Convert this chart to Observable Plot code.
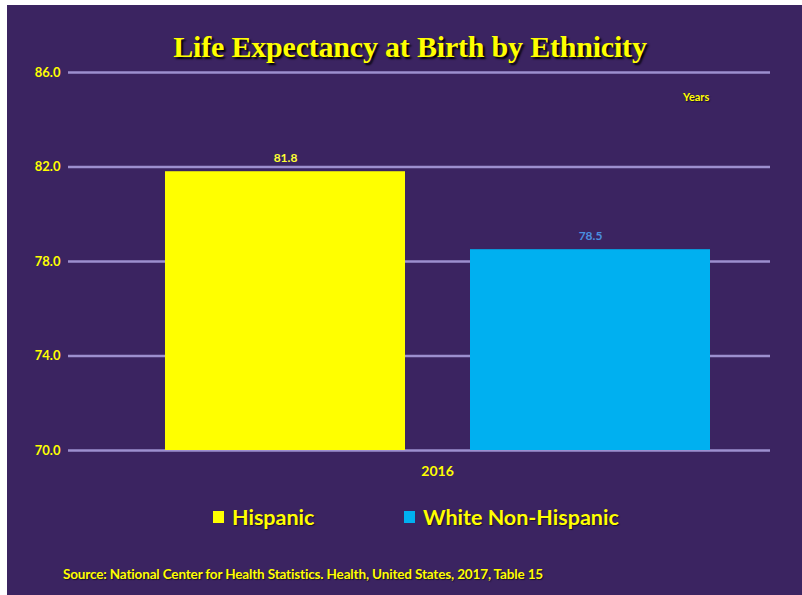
<!DOCTYPE html>
<html>
<head>
<meta charset="utf-8">
<script src="https://cdn.jsdelivr.net/npm/d3@7"></script>
<script src="https://cdn.jsdelivr.net/npm/@observablehq/plot@0.6"></script>
<style>
  html, body { margin: 0; padding: 0; background: #ffffff; width: 802px; height: 595px; overflow: hidden; }
  #bg { position: absolute; left: 7px; top: 5px; width: 795px; height: 590px; background: #3b2461; }
  #title { position: absolute; left: 0; top: 30px; width: 820px; text-align: center;
    font-family: "Liberation Serif", serif; font-weight: bold; font-size: 30px; color: #ffff00;
    text-shadow: 2px 2px 2px #000000; letter-spacing: -0.2px; }
  #unit { position: absolute; left: 683px; top: 90px; font-family: Lato, sans-serif; font-weight: bold;
    font-size: 11px; color: #ffff00; text-shadow: 1px 1px 1px #1a0f30; }
  #chart { position: absolute; left: 0; top: 60px; }
  #legend { position: absolute; top: 504px; left: 0; width: 802px; height: 30px; font-family: Lato, sans-serif;
    font-weight: bold; font-size: 21.5px; color: #ffff00; text-shadow: 1px 1px 1px #1a0f30; }
  .item { position: absolute; top: 0; white-space: nowrap; }
  .sw { display: inline-block; width: 11px; height: 12px; margin-right: 8px; vertical-align: 2px; }
  #source { position: absolute; left: 63px; top: 566px; font-family: Lato, sans-serif; font-weight: bold;
    font-size: 13.5px; color: #ffff00; text-shadow: 1px 1px 1px #1a0f30; letter-spacing: -0.15px; }
</style>
</head>
<body>
<div id="bg"></div>
<div id="title">Life Expectancy at Birth by Ethnicity</div>
<div id="unit">Years</div>
<div id="chart"></div>
<div id="legend"></div>
<div id="source">Source: National Center for Health Statistics. Health, United States, 2017, Table 15</div>
<script>
const years = ["2016"];
const groups = ["Hispanic", "White Non-Hispanic"];
const values = [81.8, 78.5];
const yTicks = [70, 74, 78, 82, 86];
const barColors = ["#ffff00", "#00b0f0"];
const labelColors = ["#ffff33", "#4a8fe0"];
const legendX = [213, 404];

const data = groups.map((g, i) => ({group: g, value: values[i], year: years[0]}));
const yMin = yTicks[0];

const chart = Plot.plot({
  width: 802,
  height: 430,
  marginLeft: 68,
  marginRight: 32,
  marginTop: 12,
  marginBottom: 40,
  style: { background: "transparent", fontFamily: "Lato, sans-serif" },
  x: { domain: groups, range: [165, 711], paddingInner: 0.213, paddingOuter: 0, axis: null },
  y: { domain: [yTicks[0], yTicks[yTicks.length - 1]] },
  color: { domain: groups, range: barColors },
  marks: [
    Plot.ruleY(yTicks, { stroke: "#9d8fcf", strokeWidth: 2.5 }),
    Plot.axisY(yTicks, { tickSize: 0, tickPadding: 8, tickFormat: d => d.toFixed(1), label: null,
      fill: "#ffff00", fontSize: 13, fontWeight: "bold" }),
    Plot.barY(data, { x: "group", y1: () => yMin, y2: "value", fill: "group" }),
    ...data.map((d, i) => Plot.text([d], { x: "group", y: "value", text: d => d.value.toFixed(1),
      dy: -14, fill: labelColors[i], fontSize: 12, fontWeight: "bold" })),
    Plot.text(years, { text: d => d, frameAnchor: "bottom", dy: 25, dx: 18,
      fill: "#ffff00", fontSize: 14, fontWeight: "bold" })
  ]
});
document.getElementById("chart").appendChild(chart);

const legend = document.getElementById("legend");
groups.forEach((g, i) => {
  const item = document.createElement("div");
  item.className = "item";
  item.style.left = legendX[i] + "px";
  const sw = document.createElement("span");
  sw.className = "sw";
  sw.style.background = barColors[i];
  item.appendChild(sw);
  item.appendChild(document.createTextNode(g));
  legend.appendChild(item);
});
</script>
</body>
</html>
